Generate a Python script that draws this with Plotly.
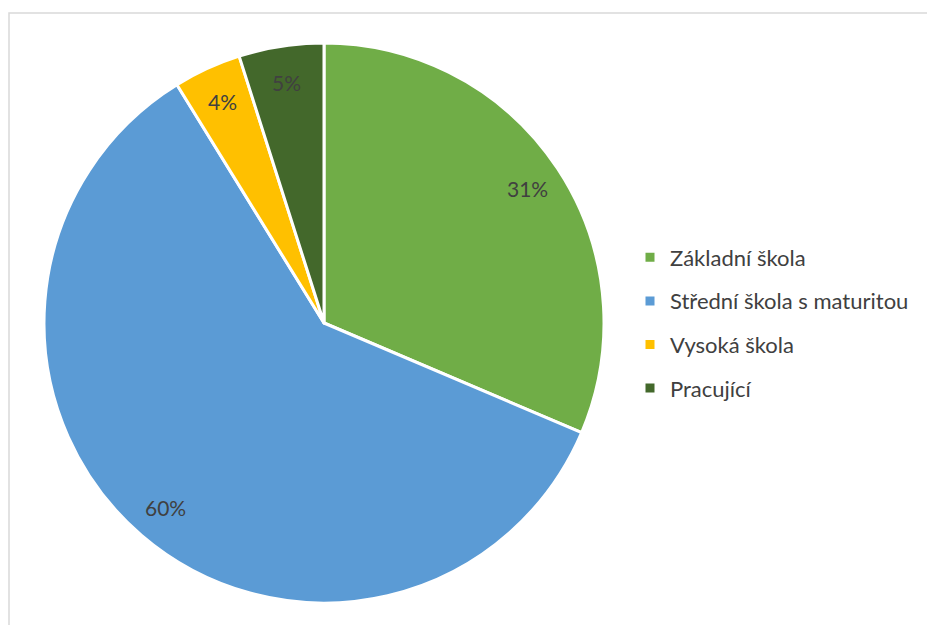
import math

import plotly.graph_objects as go

W, H = 927, 625

categories = ["Základní škola", "Střední škola s maturitou", "Vysoká škola", "Pracující"]
shares = [31.4, 59.8, 3.9, 4.9]
colors = ["#70ad47", "#5b9bd5", "#ffc000", "#43682b"]

TEXT = "#404040"
FONT = "Lato"

# pie placement in pixels
CX, CY, R = 324, 323, 280
LABEL_R = 0.87


def px_x(x):
    return x / W


def px_y(y):
    return 1 - y / H


fig = go.Figure()
fig.add_trace(
    go.Pie(
        labels=categories,
        values=shares,
        sort=False,
        direction="clockwise",
        rotation=0,
        marker={"colors": colors, "line": {"color": "white", "width": 3}},
        textinfo="none",
        hoverinfo="label+percent",
        showlegend=False,
        domain={"x": [px_x(CX - R), px_x(CX + R)], "y": [px_y(CY + R), px_y(CY - R)]},
    )
)

# legend entries, one group each so the gap between them can be set
for name, color in zip(categories, colors):
    fig.add_trace(
        go.Scatter(
            x=[None],
            y=[None],
            mode="markers",
            name=name,
            legendgroup=name,
            marker={"symbol": "square", "size": 9, "color": color},
        )
    )

# percentage labels placed at the middle angle of each slice
total = sum(shares)
start = 0.0
for value in shares:
    mid = (start + value / 2) / total * 2 * math.pi
    start += value
    fig.add_annotation(
        x=px_x(CX + LABEL_R * R * math.sin(mid)),
        y=px_y(CY - LABEL_R * R * math.cos(mid)),
        xref="paper",
        yref="paper",
        xanchor="center",
        yanchor="middle",
        text=f"{round(value / total * 100)}%",
        showarrow=False,
        font={"family": FONT, "size": 21, "color": TEXT},
    )

fig.add_shape(
    type="rect",
    xref="paper",
    yref="paper",
    x0=px_x(9),
    y0=px_y(640),
    x1=px_x(940),
    y1=px_y(13),
    line={"color": "#d9d9d9", "width": 1.5},
    layer="below",
)

fig.update_layout(
    width=W,
    height=H,
    margin={"l": 0, "r": 0, "t": 0, "b": 0},
    paper_bgcolor="white",
    plot_bgcolor="white",
    xaxis={"visible": False},
    yaxis={"visible": False},
    legend={
        "x": px_x(630),
        "y": px_y(323),
        "xanchor": "left",
        "yanchor": "middle",
        "font": {"family": FONT, "size": 22, "color": TEXT},
        "tracegroupgap": 12,
        "itemwidth": 30,
        "bgcolor": "rgba(0,0,0,0)",
    },
)

fig.write_html(
    "out.html",
    config={"displayModeBar": False},
    post_script="document.body.style.margin = '0';",
)
